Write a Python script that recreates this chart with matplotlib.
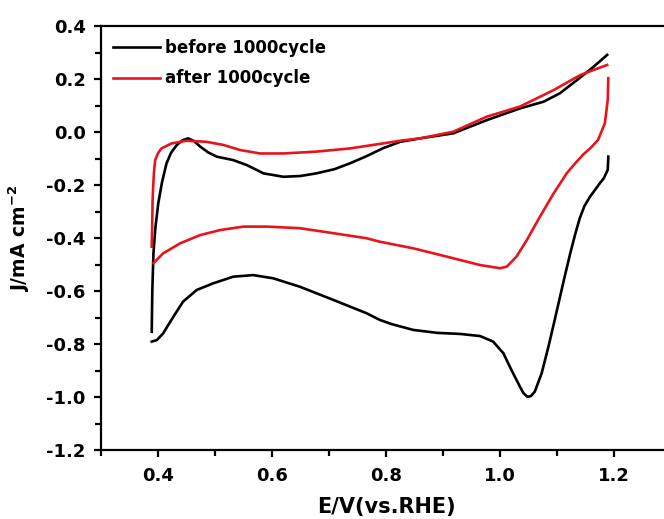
import matplotlib
matplotlib.use("Agg")
import matplotlib.pyplot as plt
from matplotlib.ticker import MultipleLocator, FormatStrFormatter

plt.rcParams["font.family"] = ["DejaVu Sans"]
plt.rcParams["font.weight"] = "bold"
plt.rcParams["mathtext.fontset"] = "custom"
plt.rcParams["mathtext.rm"] = "DejaVu Sans:bold"
plt.rcParams["mathtext.bf"] = "DejaVu Sans:bold"
plt.rcParams["mathtext.it"] = "DejaVu Sans:bold"

# "before 1000cycle" - anodic (forward) and cathodic (reverse) sweeps
before_fwd_x = [0.389, 0.390, 0.392, 0.3955, 0.4005, 0.407, 0.415, 0.423, 0.433, 0.443,
                0.453, 0.463, 0.474, 0.488, 0.503, 0.532, 0.556, 0.585, 0.62, 0.65,
                0.678, 0.71, 0.737, 0.765, 0.795, 0.825, 0.86, 0.918, 0.977, 1.035,
                1.076, 1.105, 1.135, 1.164, 1.188]
before_fwd_y = [-0.754, -0.60, -0.458, -0.36, -0.269, -0.19, -0.118, -0.078, -0.049, -0.031,
                -0.024, -0.034, -0.055, -0.077, -0.093, -0.106, -0.125, -0.156, -0.169, -0.166,
                -0.156, -0.14, -0.118, -0.092, -0.061, -0.037, -0.024, -0.005, 0.045, 0.089,
                0.114, 0.146, 0.196, 0.246, 0.291]
before_rev_x = [1.19, 1.189, 1.182, 1.175, 1.158, 1.148, 1.14, 1.132, 1.123, 1.113, 1.104,
                1.096, 1.085, 1.073, 1.061, 1.054, 1.048, 1.041, 1.035, 1.02, 1.006,
                0.988, 0.965, 0.93, 0.89, 0.848, 0.81, 0.789, 0.766, 0.708, 0.649,
                0.602, 0.567, 0.532, 0.497, 0.468, 0.444, 0.427, 0.409, 0.398, 0.389]
before_rev_y = [-0.093, -0.143, -0.175, -0.194, -0.244, -0.28, -0.325, -0.385, -0.46, -0.55,
                -0.634, -0.709, -0.81, -0.911, -0.98, -0.997, -0.999, -0.985, -0.961, -0.898,
                -0.835, -0.791, -0.77, -0.762, -0.758, -0.747, -0.725, -0.709, -0.684, -0.634,
                -0.584, -0.552, -0.54, -0.546, -0.571, -0.596, -0.64, -0.697, -0.76, -0.785,
                -0.791]

# "after 1000cycle"
after_fwd_x = [0.389, 0.390, 0.3905, 0.3915, 0.393, 0.395, 0.400, 0.406, 0.424, 0.45,
               0.485, 0.515, 0.544, 0.579, 0.62, 0.678, 0.737, 0.795, 0.825, 0.86,
               0.918, 0.977, 1.035, 1.094, 1.141, 1.164, 1.188]
after_fwd_y = [-0.433, -0.33, -0.26, -0.206, -0.15, -0.106, -0.08, -0.062, -0.043, -0.033,
               -0.037, -0.049, -0.068, -0.081, -0.081, -0.074, -0.062, -0.043, -0.033, -0.024,
               0.001, 0.058, 0.096, 0.158, 0.215, 0.234, 0.253]
after_rev_x = [1.19, 1.189, 1.184, 1.172, 1.16, 1.146, 1.132, 1.117, 1.094, 1.07,
               1.047, 1.029, 1.012, 1.0, 0.965, 0.906, 0.848, 0.789, 0.766, 0.708,
               0.649, 0.591, 0.55, 0.509, 0.474, 0.439, 0.409, 0.392]
after_rev_y = [0.203, 0.121, 0.033, -0.03, -0.058, -0.085, -0.118, -0.156, -0.232, -0.32,
               -0.408, -0.47, -0.508, -0.514, -0.502, -0.47, -0.439, -0.414, -0.401, -0.382,
               -0.363, -0.357, -0.357, -0.37, -0.389, -0.42, -0.458, -0.495]

x_ticks = [0.4, 0.6, 0.8, 1.0, 1.2]
y_ticks = [0.4, 0.2, 0.0, -0.2, -0.4, -0.6, -0.8, -1.0, -1.2]

fig = plt.figure(figsize=(6.64, 5.19), dpi=100)
ax = fig.add_axes([101 / 664, 69 / 519, 570 / 664, 424 / 519])

lw = 1.9
ax.plot(before_fwd_x, before_fwd_y, color="black", lw=lw, label="before 1000cycle")
ax.plot(before_rev_x, before_rev_y, color="black", lw=lw)
ax.plot(after_fwd_x, after_fwd_y, color="#e8141b", lw=lw, label="after 1000cycle")
ax.plot(after_rev_x, after_rev_y, color="#e8141b", lw=lw)

ax.set_xlim(0.3, 1.3)
ax.set_ylim(-1.2, 0.4)
ax.set_xticks(x_ticks)
ax.set_yticks(y_ticks)
ax.xaxis.set_minor_locator(MultipleLocator(0.1))
ax.yaxis.set_minor_locator(MultipleLocator(0.1))
ax.xaxis.set_major_formatter(FormatStrFormatter("%.1f"))
ax.yaxis.set_major_formatter(FormatStrFormatter("%.1f"))

for s in ax.spines.values():
    s.set_linewidth(1.6)
ax.tick_params(which="major", direction="out", length=5, width=1.6, labelsize=13)
ax.tick_params(which="minor", direction="out", length=4, width=1.6)
ax.tick_params(axis="x", which="major", pad=7)
ax.tick_params(axis="y", which="major", pad=6)
for lab in ax.get_xticklabels() + ax.get_yticklabels():
    lab.set_fontweight("bold")

ax.set_xlabel("E/V(vs.RHE)", fontsize=15, fontweight="bold", labelpad=9)
ax.set_ylabel(r"J/mA cm$^{-2}$", fontsize=13.5, fontweight="bold", labelpad=10)

leg = ax.legend(loc="upper left", frameon=False, fontsize=12, handlelength=2.85,
                handletextpad=0.3, labelspacing=0.75, borderaxespad=0.3,
                bbox_to_anchor=(0.0, 0.997))
for t in leg.get_texts():
    t.set_fontweight("bold")

fig.savefig("out.png", dpi=100, facecolor="white")
